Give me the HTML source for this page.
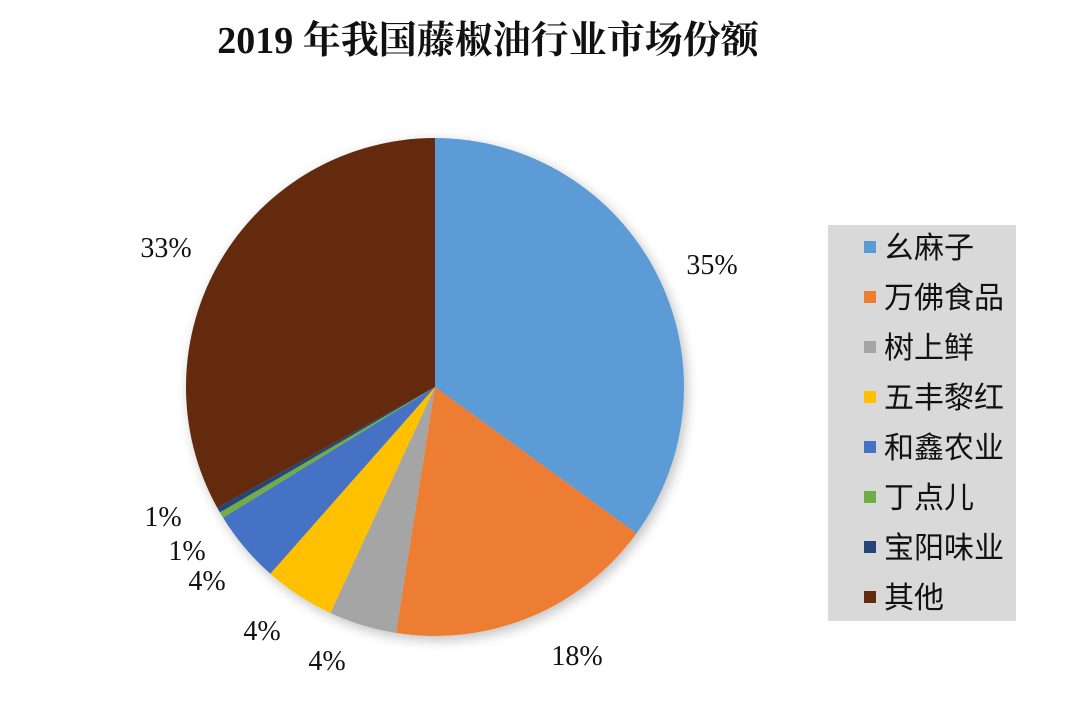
<!DOCTYPE html>
<html><head><meta charset="utf-8">
<style>
body{margin:0;background:#fff;width:1080px;height:713px;overflow:hidden;font-family:"Liberation Serif","Noto Serif CJK SC",serif;}
</style></head>
<body>
<svg width="1080" height="713" viewBox="0 0 1080 713" xmlns="http://www.w3.org/2000/svg">
<defs>
<filter id="sh" x="-20%" y="-20%" width="140%" height="140%"><feGaussianBlur in="SourceAlpha" stdDeviation="6"/><feOffset dx="3" dy="4"/><feComponentTransfer><feFuncA type="linear" slope="0.25"/></feComponentTransfer><feMerge><feMergeNode/><feMergeNode in="SourceGraphic"/></feMerge></filter>
</defs>
<text x="488" y="53" text-anchor="middle" font-size="38" font-weight="bold" fill="#111" font-family="Liberation Serif, Noto Serif CJK SC, serif">2019 年我国藤椒油行业市场份额</text>
<g id="pie" filter="url(#sh)"></g>
<g id="labels"></g>
<rect x="828" y="225" width="188" height="396" fill="#d9d9d9"/>
<g id="legend"></g>
</svg>
<script>
const categories=["幺麻子","万佛食品","树上鲜","五丰黎红","和鑫农业","丁点儿","宝阳味业","其他"];
const values=[35,17.5,4.4,4.6,4.7,0.4,0.35,33.05];
const labels=["35%","18%","4%","4%","4%","1%","1%","33%"];
const colors=["#5b9bd5","#ed7d31","#a5a5a5","#ffc000","#4472c4","#70ad47","#264478","#632a0c"];
const labelPos=[[712,264],[577,655],[327,660],[262,630],[207,580],[187,550],[163,516],[166,247]];
const cx=435,cy=387,r=249;
const NS="http://www.w3.org/2000/svg";
const pie=document.getElementById('pie');
const total=values.reduce((a,b)=>a+b,0);
let a0=0;
function pt(a){return [cx+r*Math.sin(a),cy-r*Math.cos(a)];}
values.forEach((v,i)=>{
  const a1=a0+v/total*2*Math.PI;
  const p0=pt(a0),p1=pt(a1);
  const large=(a1-a0)>Math.PI?1:0;
  const p=document.createElementNS(NS,'path');
  p.setAttribute('d',`M${cx},${cy}L${p0[0]},${p0[1]}A${r},${r} 0 ${large} 1 ${p1[0]},${p1[1]}Z`);
  p.setAttribute('fill',colors[i]);
  
  
  pie.appendChild(p);
  a0=a1;
});
const lg=document.getElementById('labels');
labels.forEach((t,i)=>{
  const e=document.createElementNS(NS,'text');
  e.setAttribute('x',labelPos[i][0]);e.setAttribute('y',labelPos[i][1]+10);
  e.setAttribute('text-anchor','middle');e.setAttribute('font-size','28');e.setAttribute('fill','#111');
  e.textContent=t;
  
  
  lg.appendChild(e);
});
const leg=document.getElementById('legend');
categories.forEach((c,i)=>{
  const y=247+i*50;
  const s=document.createElementNS(NS,'rect');
  s.setAttribute('x',864);s.setAttribute('y',y-6);s.setAttribute('width',12);s.setAttribute('height',12);s.setAttribute('fill',colors[i]);
  
  
  leg.appendChild(s);
  const t=document.createElementNS(NS,'text');
  t.setAttribute('x',884);t.setAttribute('y',y+11);t.setAttribute('font-size','30');t.setAttribute('fill','#111');
  t.setAttribute('font-family','Liberation Sans, Noto Sans CJK SC, sans-serif');
  t.textContent=c;
  
  
  leg.appendChild(t);
});
</script>
</body></html>
